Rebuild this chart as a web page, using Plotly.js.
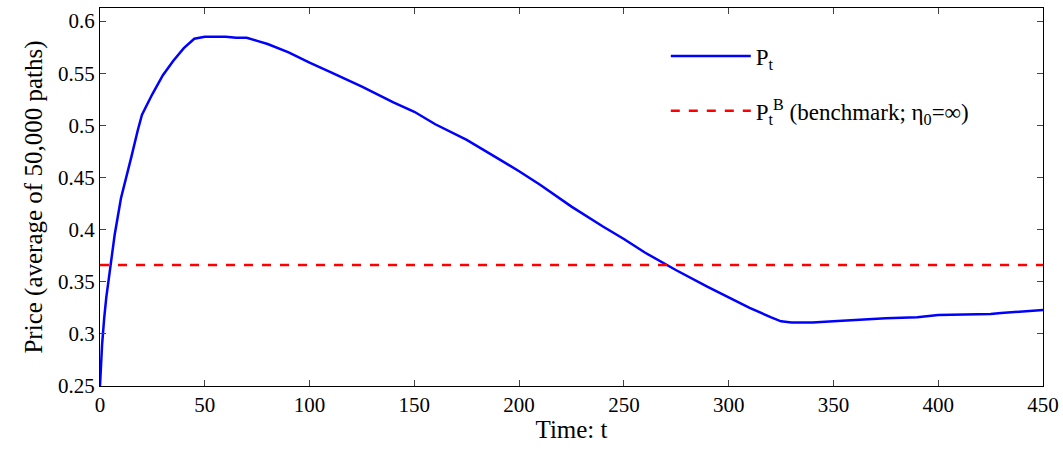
<!DOCTYPE html>
<html><head><script src="https://cdn.plot.ly/plotly-3.0.1.min.js"></script></head>
<body style="margin:0"><div id="c" style="width:1063px;height:461px"></div>
<script>
const tVals = [0,1,2,3,5,7,10,12,15,18,20,22,25,30,35,40,45,50,55,60,65,70,75,80,90,100,110,125,140,150,160,175,190,200,210,225,240,250,260,275,290,300,310,320,325,330,340,350,365,375,390,400,425,430,450];
const pVals = [0.25,0.29,0.315,0.335,0.365,0.395,0.43,0.445,0.47,0.495,0.51,0.518,0.53,0.548,0.562,0.574,0.583,0.585,0.585,0.585,0.584,0.584,0.581,0.578,0.57,0.56,0.551,0.537,0.522,0.513,0.501,0.486,0.468,0.456,0.443,0.422,0.403,0.391,0.378,0.361,0.345,0.335,0.325,0.316,0.312,0.311,0.311,0.312,0.314,0.315,0.316,0.318,0.319,0.320,0.323];
const benchT = [0,450];
const benchP = [0.366,0.366];
Plotly.newPlot('c',[
 {x:tVals,y:pVals,mode:'lines',line:{color:'#0000ff',width:2.5},name:'P<sub>t</sub>',legendgroup:'a'},
 {x:benchT,y:benchP,mode:'lines',line:{color:'#ff0000',width:2.5,dash:'dash'},name:'P<sub>t</sub><sup>B</sup> (benchmark; η<sub>0</sub>=∞)',legendgroup:'b'}
],{
 margin:{l:100,r:20,t:8,b:75},
 paper_bgcolor:'white',plot_bgcolor:'white',
 font:{family:'Liberation Serif',size:22,color:'black'},
 showlegend:true,
 legend:{x:0.6,y:0.93,xanchor:'left',yanchor:'top',bgcolor:'rgba(0,0,0,0)',font:{size:23},itemwidth:80,tracegroupgap:22},
 xaxis:{range:[0,450],dtick:50,showgrid:false,zeroline:false,showline:true,mirror:'ticks',linecolor:'black',ticks:'inside',ticklen:6,
   tickfont:{family:'Liberation Serif',size:21},
   title:{text:'Time: t',standoff:4,font:{size:25}}},
 yaxis:{range:[0.25,0.6125],dtick:0.05,showgrid:false,zeroline:false,showline:true,mirror:'ticks',linecolor:'black',ticks:'inside',ticklen:6,
   tickfont:{family:'Liberation Serif',size:21},
   title:{text:'Price (average of 50,000 paths)',standoff:8,font:{size:25}}}
},{displayModeBar:false});
</script></body></html>
